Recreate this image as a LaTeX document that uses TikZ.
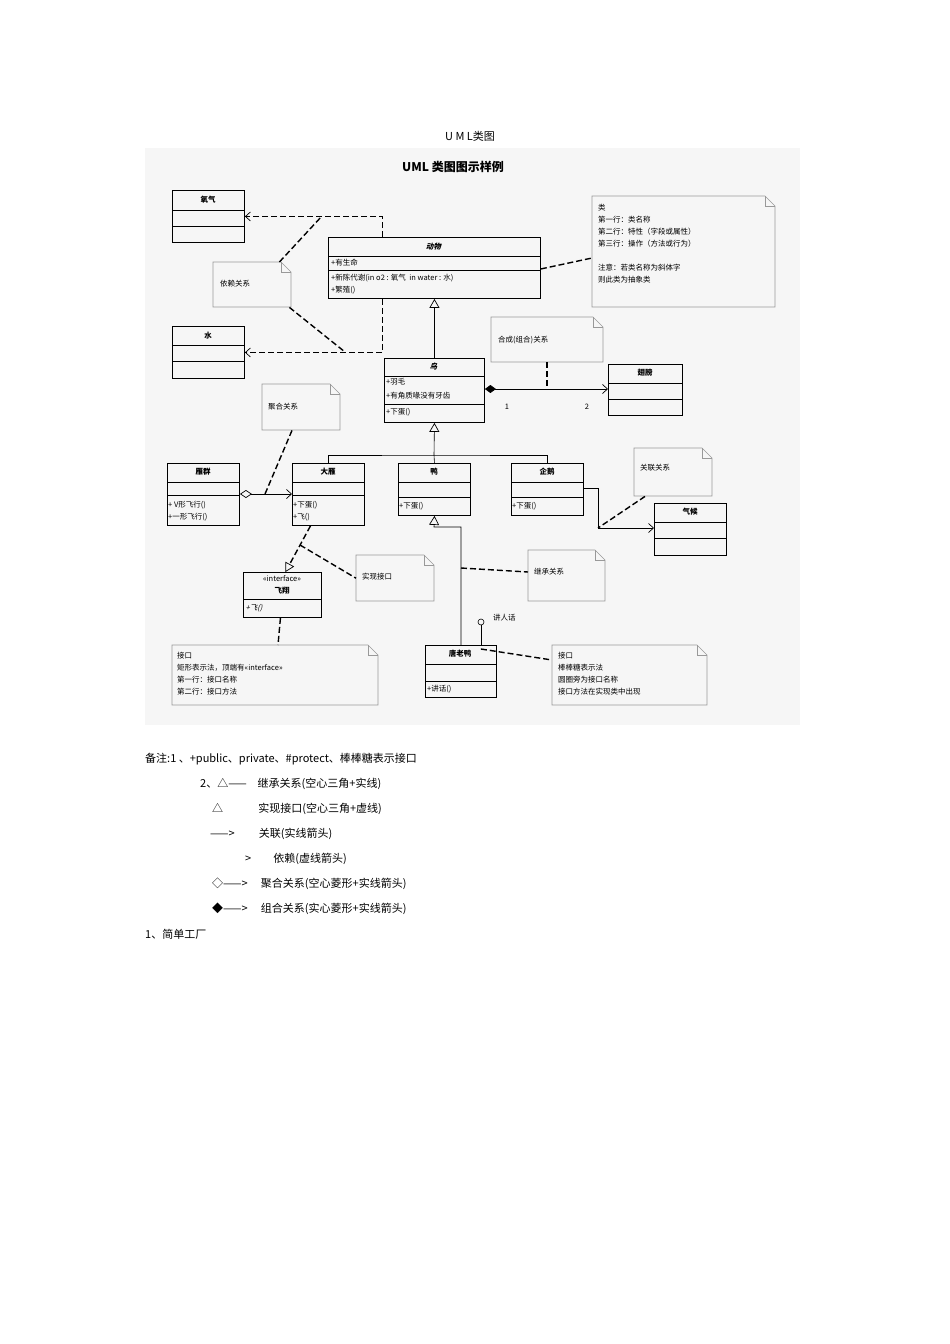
\documentclass[tikz,border=0pt]{standalone}
\usepackage{fontspec}
\setmainfont{Noto Sans CJK SC}
\usetikzlibrary{arrows.meta}
\newcommand\mkcls[7]{\node[cls,minimum width=#4,minimum height=#5] (#1) at (#2,#3) {};
 \draw[line width=0.9pt] (#2,#6) -- ++(#4,0); \draw[line width=0.9pt] (#2,#7) -- ++(#4,0);}
\newcommand\mknote[5]{\node[note,minimum width=#4,minimum height=#5] (#1) at (#2,#3) {};
 \draw[notel] (#2,#3) -- ({#2+#4-10},#3) -- ({#2+#4},{#3+10}) -- ({#2+#4},{#3+#5}) -- (#2,{#3+#5}) -- cycle;
 \draw[notel] ({#2+#4-10},#3) |- ({#2+#4},{#3+10});}
\begin{document}
\begin{tikzpicture}[x=1pt,y=-1pt,
 cls/.style={draw,line width=0.9pt,anchor=north west,inner sep=0},
 note/.style={anchor=north west,inner sep=0},
 notel/.style={draw=gray!80,line width=0.6pt},
 t/.style={font=\fontsize{7.5}{8}\selectfont,inner sep=0,anchor=west},
 tb/.style={font=\fontsize{7.5}{8}\selectfont\bfseries,inner sep=0},
 dep/.style={dash pattern=on 6pt off 3pt, line width=1.4pt},
 ln/.style={line width=0.6pt},
 barb/.style={-{Straight Barb[length=5pt,width=9pt,line width=0.7pt]}},
 tri/.style={-{Triangle[open,length=9pt,width=10pt,line width=0.7pt]}},
 bt/.style={font=\fontsize{11}{13}\selectfont,inner sep=0,anchor=west}]
\useasboundingbox (0,0) rectangle (950,1344);
\fill[gray!7] (145,148) rectangle (800,725);
\node[font=\fontsize{11}{13}\selectfont,inner sep=0] (title) at (470,136) {U M L类图};
\node[font=\fontsize{12}{14}\selectfont\bfseries,inner sep=0] (sub) at (453,167) {UML 类图图示样例};
% classes
\mkcls{o2}{172}{190}{72}{52}{210}{226}
\node[tb] at (208,200) {氧气};
\mkcls{wa}{172}{326}{72}{52}{345}{361}
\node[tb] at (208,336) {水};
\mkcls{ani}{328}{237}{212}{61}{256}{270}
\node[tb,xslant=0.25] at (434,247) {动物};
\node[t] at (331,263) {+有生命};
\node[t] at (331,278) {+新陈代谢(in o2 : 氧气\ \ in water : 水)};
\node[t] at (331,290) {+繁殖()};
\mkcls{bird}{384}{358}{100}{64}{376}{404}
\node[tb,xslant=0.25] at (434,367) {鸟};
\node[t] at (386,382) {+羽毛};
\node[t] at (386,396) {+有角质喙没有牙齿};
\node[t] at (386,412) {+下蛋()};
\mkcls{wing}{608}{364}{74}{51}{383}{399}
\node[tb] at (645,373) {翅膀};
\mkcls{flock}{167}{463}{72}{62}{482}{495}
\node[tb] at (203,472) {雁群};
\node[t] at (168,505) {+ V形飞行()};
\node[t] at (168,517) {+一形飞行()};
\mkcls{goose}{292}{463}{72}{62}{482}{495}
\node[tb] at (328,472) {大雁};
\node[t] at (293,505) {+下蛋()};
\node[t] at (293,517) {+飞()};
\mkcls{duck}{398}{463}{72}{52}{482}{497}
\node[tb] at (434,472) {鸭};
\node[t] at (399,506) {+下蛋()};
\mkcls{peng}{511}{463}{72}{52}{482}{497}
\node[tb] at (547,472) {企鹅};
\node[t] at (512,506) {+下蛋()};
\mkcls{clim}{654}{503}{72}{52}{522}{538}
\node[tb] at (690,512) {气候};
\node[cls,minimum width=78,minimum height=45] (fly) at (243,572) {};
\draw[line width=0.9pt] (243,599) -- ++(78,0);
\node[t,anchor=center] at (282,579) {<<interface>>};
\node[tb] at (282,591) {飞翔};
\node[t,xslant=0.25] at (246,608) {+飞()};
\mkcls{tld}{425}{645}{71}{52}{664}{681}
\node[tb] at (460,654) {唐老鸭};
\node[t] at (427,689) {+讲话()};
% notes
\mknote{ncls}{592}{196}{183}{111}
\node[t] at (598,208) {类};
\node[t] at (598,220) {第一行：类名称};
\node[t] at (598,232) {第二行：特性（字段或属性）};
\node[t] at (598,244) {第三行：操作（方法或行为）};
\node[t] at (598,268) {注意：若类名称为斜体字};
\node[t] at (598,280) {则此类为抽象类};
\mknote{ndep}{213}{262}{78}{45}
\node[t] at (220,284) {依赖关系};
\mknote{ncomp}{491}{317}{112}{45}
\node[t] at (498,340) {合成(组合)关系};
\mknote{nagg}{262}{384}{78}{46}
\node[t] at (268,407) {聚合关系};
\mknote{nass}{634}{448}{78}{48}
\node[t] at (640,468) {关联关系};
\mknote{nreal}{356}{555}{78}{46}
\node[t] at (362,577) {实现接口};
\mknote{ninh}{528}{550}{77}{51}
\node[t] at (534,572) {继承关系};
\mknote{nif}{172}{645}{206}{60}
\node[t] at (177,656) {接口};
\node[t] at (177,668) {矩形表示法，顶端有<<interface>>};
\node[t] at (177,680) {第一行：接口名称};
\node[t] at (177,692) {第二行：接口方法};
\mknote{nlol}{552}{645}{155}{60}
\node[t] at (558,656) {接口};
\node[t] at (558,668) {棒棒糖表示法};
\node[t] at (558,680) {圆圈旁为接口名称};
\node[t] at (558,692) {接口方法在实现类中出现};
% dependency
\draw[dep,barb] ([xshift=-52]ani.north) |- (o2.east);
\draw[dep,barb] ([xshift=-52]ani.south) |- (wa.east);
\coordinate (j1) at (322,216);
\coordinate (j2) at (345,352);
\draw[dep] ([xshift=-12]ndep.north east) -- (j1);
\draw[dep] ([xshift=-2]ndep.south east) -- (j2);
\draw[dep] ([yshift=-1]ani.east) -- (ncls.west|-0,258);
% inheritance
\draw[ln,tri] (bird.north) -- (ani.south);
\coordinate (hb) at (434,455);
\draw[ln] (goose.north) |- (hb) -| (peng.north);
\draw[ln] (duck.north) -- (hb);
\draw[ln,tri] (hb) -- (bird.south);
% composition
\draw[ln,{Diamond[length=11pt,width=8pt]}-{Straight Barb[length=5pt,width=9pt,line width=0.7pt]}] (bird.east|-0,389) -- (wing.west|-0,389);
\coordinate (jc) at (547,389);
\draw[dep] (ncomp.south-|jc) -- (jc);
\node[t,anchor=center] (n1) at (507,407) {1};
\node[t,anchor=center] (n2) at (587,407) {2};
% aggregation
\draw[ln,{Diamond[open,length=12pt,width=8pt,line width=0.7pt]}-{Straight Barb[length=5pt,width=9pt,line width=0.7pt]}] (flock.east|-0,494) -- (goose.west|-0,494);
\coordinate (ja) at (265,494);
\draw[dep] ([xshift=30]nagg.south west) -- (ja);
% association
\coordinate (pa) at (598,488);
\coordinate (pb) at (598,528);
\draw[ln,barb] (peng.east|-pa) -- (pa) -- (pb) -- (clim.west|-pb);
\draw[dep] ([xshift=11]nass.south west) -- (pb);
% realization
\draw[dep,tri] ([xshift=-18]goose.south) -- ([xshift=3]fly.north);
\coordinate (jr) at (300,545);
\draw[dep] (jr) -- (nreal.west);
% duck -> tang
\coordinate (ta) at (461,527);
\coordinate (tb) at (434,527);
\draw[ln,tri] (tld.north-|ta) -- (ta) -- (tb) -- (duck.south);
\coordinate (ji) at (461,568);
\draw[dep] (ji) -- (ninh.west|-0,572);
% lollipop
\node[draw,circle,minimum size=6pt,inner sep=0,line width=0.6pt] (lol) at (481,622) {};
\draw[ln] (lol.south) -- (tld.north-|lol);
\node[t] at (493,618) {讲人话};
\draw[dep] ([xshift=-16,yshift=-4]tld.north east) -- (nlol.west|-0,660);
\draw[dep] ([xshift=-2]fly.south) -- ([xshift=106]nif.north west);
% bottom
\node[bt] at (145,759) {备注:1 、+public、private、\#protect、棒棒糖表示接口};
\node[bt] at (200,784) {2、△——\quad 继承关系(空心三角+实线)};
\node[bt] at (212,809) {△\hspace{3.2em}实现接口(空心三角+虚线)};
\node[bt] at (210,834) {——>\hspace{2.2em}关联(实线箭头)};
\node[bt] at (245,859) {>\hspace{2em}依赖(虚线箭头)};
\node[bt] at (212,884) {◇——>\hspace{1.2em}聚合关系(空心菱形+实线箭头)};
\node[bt] at (212,909) {◆——>\hspace{1.2em}组合关系(实心菱形+实线箭头)};
\node[bt] at (145,934) {1、简单工厂};
\end{tikzpicture}
\end{document}
